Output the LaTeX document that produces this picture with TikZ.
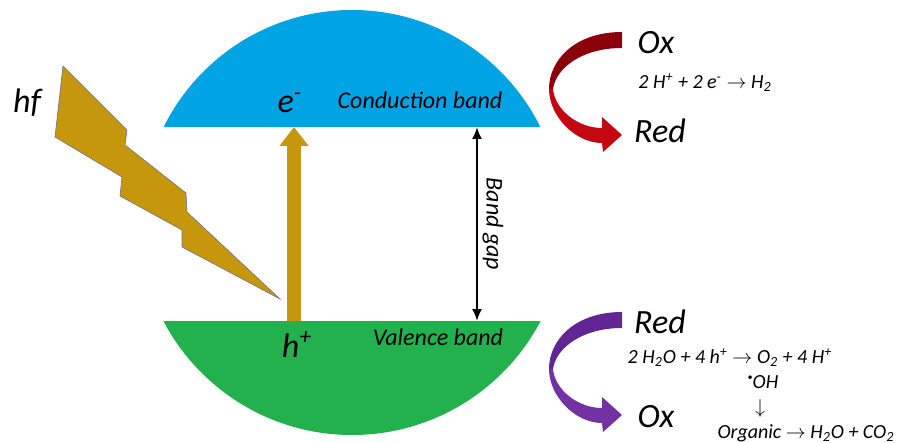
\documentclass[tikz,border=0pt]{standalone}
\usepackage{fontspec}
\setmainfont{Carlito}
\usetikzlibrary{arrows.meta}
\definecolor{cbblue}{RGB}{0,163,228}
\definecolor{vbgreen}{RGB}{35,177,77}
\definecolor{bolt}{RGB}{198,150,12}
\definecolor{boltline}{RGB}{110,115,140}
\definecolor{redback}{RGB}{140,0,12}
\definecolor{redfront}{RGB}{196,8,18}
\definecolor{purpback}{RGB}{98,38,148}
\definecolor{purpfront}{RGB}{114,50,164}
\tikzset{
  big/.style={font=\fontsize{17}{20}\selectfont\itshape},
  bandtext/.style={font=\fontsize{12}{14}\selectfont\itshape},
  eqn/.style={font=\fontsize{10}{12}\selectfont\itshape}
}
\begin{document}
\begin{tikzpicture}[x=0.5pt,y=-0.5pt]
      \useasboundingbox (0,0) rectangle (898,443);
      % conduction band
      \begin{scope}
        \clip (0,0) rectangle (898,127);
        \fill[cbblue] (352,220) circle[radius=210];
      \end{scope}
      % valence band
      \begin{scope}
        \clip (0,321) rectangle (898,443);
        \fill[vbgreen] (352,222) circle[radius=213];
      \end{scope}
      % light
      \filldraw[fill=bolt,draw=boltline,line width=0.3pt] (63,66) -- (127,130) -- (125,145) -- (186,193)
        -- (187,212) -- (280,299) -- (182,247) -- (182,230) -- (120,196) -- (122,177) -- (55,137) -- cycle;
      \coordinate (vbtop) at (294,321);
      \coordinate (cbbot) at (294,127);
      \draw[bolt,line width=7pt,-{Triangle[length=9.5pt,width=14pt]}] (vbtop) -- (cbbot);
      \coordinate (gaptop) at (477,127);
      \coordinate (gapbot) at (477,321);
      \draw[line width=1pt,{Latex[length=6pt,width=5pt]}-{Latex[length=6pt,width=5pt]}] (gaptop) -- (gapbot);
      % redox arrows
      \fill[redback] (622,32) .. controls (575,32) and (549,60) .. (549,89) -- (553,89)
        .. controls (556,68) and (582,48) .. (622,48) -- cycle;
      \fill[redfront] (549,89) .. controls (549,116) and (575,143) .. (602,143) -- (603,152) -- (622,135)
        -- (602,117) -- (602,128) .. controls (578,128) and (555,110) .. (553,89) -- cycle;
      \begin{scope}[shift={(0,280)}]
        \fill[purpback] (622,32) .. controls (575,32) and (549,60) .. (549,89) -- (553,89)
          .. controls (556,68) and (582,48) .. (622,48) -- cycle;
        \fill[purpfront] (549,89) .. controls (549,116) and (575,143) .. (602,143) -- (603,152) -- (622,135)
          -- (602,117) -- (602,128) .. controls (578,128) and (555,110) .. (553,89) -- cycle;
      \end{scope}
      % labels
      \node[big,anchor=base] (hf) at (27,113) {hf};
      \node[big,anchor=base] (eminus) at (290,113) {e\textsuperscript{-}};
      \node[bandtext,anchor=base] (cbname) at (420,109) {Conduction band};
      \node[big,anchor=base] (hplus) at (297,357) {h\textsuperscript{+}};
      \node[bandtext,anchor=base] (vbname) at (438,345) {Valence band};
      \node[bandtext,rotate=-90] (gapname) at (493,224) {Band gap};
      \node[big] (oxtop) at (656,43) {Ox};
      \node[eqn] (eqh) at (705,83) {2 H\textsuperscript{+} + 2 e\textsuperscript{-} $\rightarrow$ H\textsubscript{2}};
      \node[big] (redtop) at (660,131) {Red};
      \node[big] (redbot) at (660,322) {Red};
      \node[eqn] (eqo) at (730,358) {2 H\textsubscript{2}O + 4 h\textsuperscript{+} $\rightarrow$ O\textsubscript{2} + 4 H\textsuperscript{+}};
      \node[eqn] (oh) at (763,382) {\raisebox{0.8ex}{\fontsize{5}{5}\selectfont\textbullet}OH};
      \node[eqn] (down) at (760,408) {$\downarrow$};
      \node[big] (oxbot) at (656,417) {Ox};
      \node[eqn] (eqorg) at (806,433) {Organic $\rightarrow$ H\textsubscript{2}O + CO\textsubscript{2}};
    \end{tikzpicture}
\end{document}
